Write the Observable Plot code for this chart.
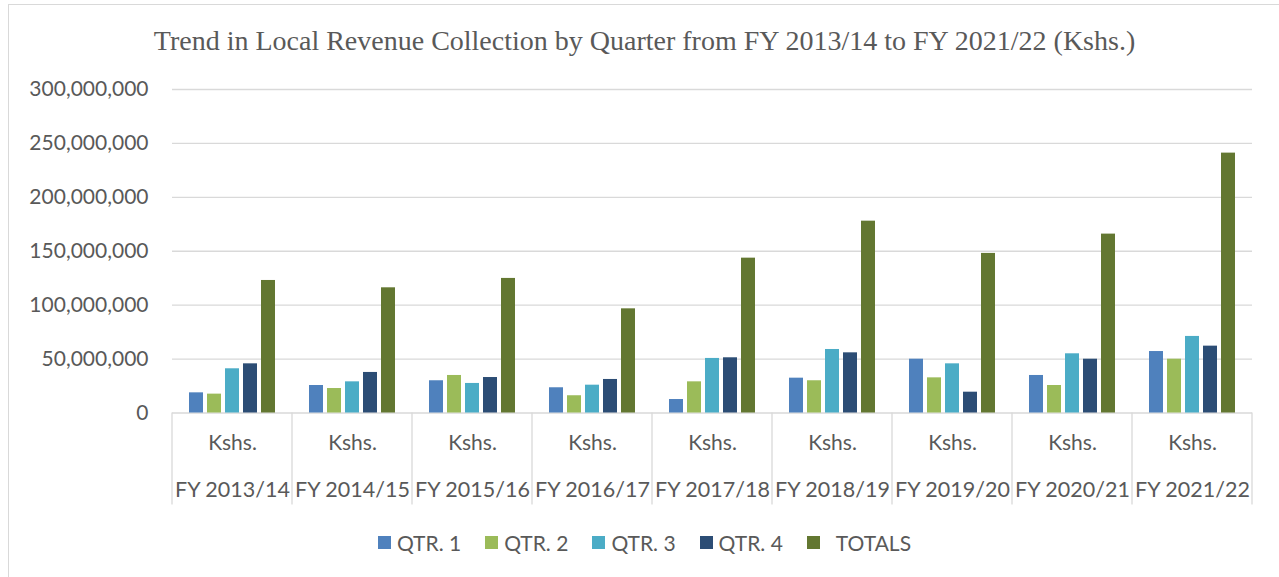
<!DOCTYPE html>
<html>
<head>
<meta charset="utf-8">
<script src="https://cdn.jsdelivr.net/npm/d3@7"></script>
<script src="https://cdn.jsdelivr.net/npm/@observablehq/plot@0.6"></script>
<style>
  html, body { margin: 0; padding: 0; background: #fff; overflow: hidden; }
  #frame { position: absolute; left: 8px; top: 4px; width: 1300px; height: 620px; border: 1px solid #d9d9d9; box-sizing: border-box; pointer-events: none; }
  #wrap { position: absolute; left: 8px; top: 0; width: 1273px; }
  #title { height: 70px; box-sizing: border-box; padding-top: 26px; text-align: center; font-family: "Liberation Serif", serif; font-size: 28px; line-height: 30px; color: #595959; white-space: nowrap; }
  #legend { height: 44px; display: flex; justify-content: center; align-items: center; font-family: Lato, sans-serif; font-size: 21px; color: #595959; }
  .item { display: flex; align-items: center; margin: 0 12px; }
  .sw { width: 13px; height: 13px; margin-right: 6px; }
  svg { display: block; }
</style>
</head>
<body>
<div id="frame"></div>
<div id="wrap">
  <div id="title"></div>
  <div id="chart"></div>
  <div id="legend"></div>
</div>
<script>
const titleText = "Trend in Local Revenue Collection by Quarter from FY 2013/14 to FY 2021/22 (Kshs.)";
const years = ["FY 2013/14", "FY 2014/15", "FY 2015/16", "FY 2016/17", "FY 2017/18", "FY 2018/19", "FY 2019/20", "FY 2020/21", "FY 2021/22"];
const unitLabel = "Kshs.";
const seriesNames = ["QTR. 1", "QTR. 2", "QTR. 3", "QTR. 4", "TOTALS"];
const seriesColors = ["#4F81BD", "#9BBB59", "#4BACC6", "#2C4D75", "#637731"];
const qtr1 = [18.7e6, 25.5e6, 29.9e6, 23.4e6, 12.5e6, 32.3e6, 49.9e6, 34.8e6, 57.0e6];
const qtr2 = [17.5e6, 22.7e6, 34.8e6, 16.0e6, 28.9e6, 29.9e6, 32.6e6, 25.5e6, 49.9e6];
const qtr3 = [41.0e6, 28.9e6, 27.4e6, 25.8e6, 50.6e6, 58.9e6, 45.6e6, 54.9e6, 71.0e6];
const qtr4 = [45.6e6, 37.6e6, 32.9e6, 31.1e6, 51.2e6, 55.8e6, 19.3e6, 49.9e6, 62.0e6];
const totals = [122.9e6, 116.1e6, 124.8e6, 96.6e6, 143.6e6, 177.9e6, 148.0e6, 165.9e6, 241.0e6];
const yTicks = [0, 50e6, 100e6, 150e6, 200e6, 250e6, 300e6];

const seriesValues = [qtr1, qtr2, qtr3, qtr4, totals];
const rows = [];
years.forEach((yr, i) => {
  seriesNames.forEach((s, j) => rows.push({year: yr, series: s, value: seriesValues[j][i]}));
});

document.getElementById("title").textContent = titleText;

const textColor = "#595959";
const plot = Plot.plot({
  width: 1273,
  height: 450,
  marginTop: 19,
  marginBottom: 107.5,
  marginLeft: 163,
  marginRight: 29,
  style: {fontFamily: "Lato, sans-serif", fontSize: "21px", color: textColor, background: "transparent"},
  fx: {domain: years, padding: 0, axis: null, label: null},
  x: {domain: seriesNames, paddingInner: 0.22, paddingOuter: 0.85, axis: null},
  y: {domain: [0, 300e6], axis: null},
  color: {domain: seriesNames, range: seriesColors},
  marks: [
    Plot.gridY(yTicks, {stroke: "#d9d9d9", strokeOpacity: 1, strokeWidth: 1.3}),
    Plot.axisY(yTicks, {tickSize: 0, tickPadding: 24, tickFormat: d3.format(","), fontSize: 21, fill: textColor, label: null}),
    Plot.barY(rows, {fx: "year", x: "series", y: "value", fill: "series"}),
    Plot.text(years, {fx: d => d, text: () => unitLabel, frameAnchor: "bottom", dy: 37, fontSize: 21, fill: textColor}),
    Plot.text(years, {fx: d => d, text: d => d, frameAnchor: "bottom", dy: 84, fontSize: 21.5, fill: textColor})
  ]
});

// category separators drawn from the library's fx scale
const fx = plot.scale("fx");
const ys = plot.scale("y");
const y0 = ys.apply(0);
const edges = years.map(d => fx.apply(d));
edges.push(fx.apply(years[years.length - 1]) + fx.bandwidth);
const g = d3.select(plot).append("g").attr("stroke", "#d9d9d9").attr("stroke-width", 1.3);
edges.forEach(x => {
  g.append("line").attr("x1", x).attr("x2", x).attr("y1", y0).attr("y2", y0 + 92);
});

document.getElementById("chart").appendChild(plot);

const legend = document.getElementById("legend");
seriesNames.forEach((s, i) => {
  const item = document.createElement("div");
  item.className = "item";
  const sw = document.createElement("div");
  sw.className = "sw";
  sw.style.background = seriesColors[i];
  if (s === "TOTALS") sw.style.marginRight = "16px";
  const lab = document.createElement("span");
  lab.textContent = s;
  item.appendChild(sw);
  item.appendChild(lab);
  legend.appendChild(item);
});
</script>
</body>
</html>
